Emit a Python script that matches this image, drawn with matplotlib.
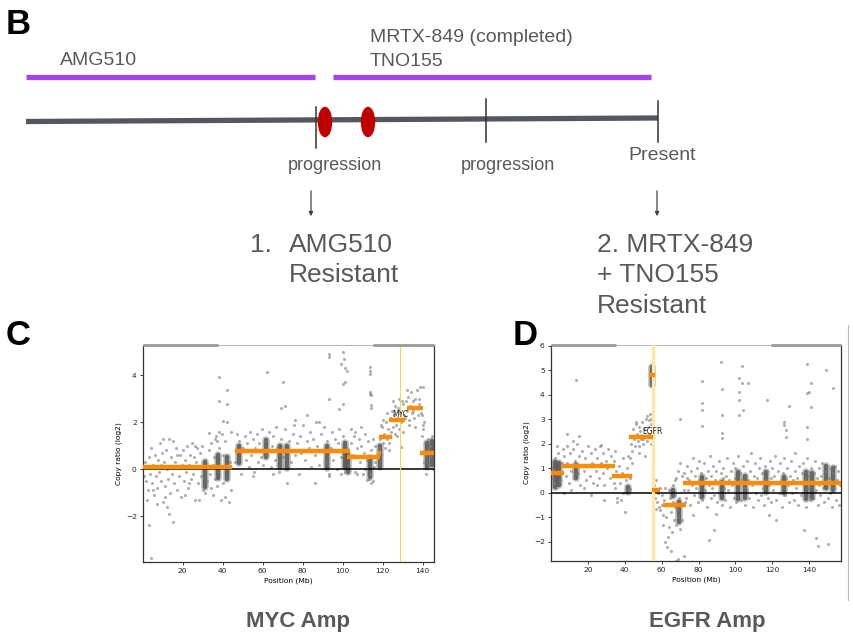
import matplotlib.pyplot as plt
from matplotlib.patches import Ellipse

# ---- panel B: treatment timeline (pixel layout of the schematic) ----
drug_labels = ["AMG510", "MRTX-849 (completed)", "TNO155"]
event_labels = ["progression", "progression", "Present"]
outcome_1 = ["1.", "AMG510", "Resistant"]
outcome_2 = ["2. MRTX-849", "+ TNO155", "Resistant"]

# ---- panel C: chr8 copy ratio, MYC ----
myc_segments_start = [0.2, 46.2, 102.0, 117.6, 118.3, 123.3, 132.3, 138.6]
myc_segments_end = [44.5, 103.7, 118.7, 119.4, 124.8, 131.3, 140.0, 145.8]
myc_segments_val = [0.08, 0.77, 0.51, 0.68, 1.39, 2.10, 2.63, 0.68]
myc_pos = 128.8

myc_left = [(1, 0.3), (1.5, -0.5), (2, 0.1), (2.5, -0.9), (3, 0.5), (3.5, -0.2), (4, 0.9), (4.5, -0.6),
            (5, 0.2), (5.5, -1.1), (6, 0.6), (6.5, -0.3), (7, -0.8), (7.5, 0.4), (8, -0.1), (8.5, 1.1),
            (9, -0.5), (9.5, 0.7), (10, -1.4), (10.5, 0.3), (11, -0.7), (11.5, 0.8), (12, 0.0), (12.5, -0.4),
            (13, 1.3), (13.5, -1.0), (14, 0.5), (14.5, -0.2), (15, 1.2), (15.5, -0.6), (16, 0.3), (16.5, 0.9),
            (17, -0.9), (17.5, 0.1), (18, -0.3), (18.5, 0.6), (19, -1.2), (19.5, 0.2), (20, 0.8), (20.5, -0.5),
            (21, 0.4), (21.5, -0.1), (22, 1.0), (22.5, -0.8), (23, 0.2), (23.5, 0.6), (24, -0.4), (24.5, 1.1),
            (25, -0.2), (25.5, 0.5), (26, -1.3), (26.5, 0.3), (27, 0.9), (27.5, -0.6), (28, 0.1), (28.5, 0.7),
            (29, -0.3), (29.5, 1.0), (30, -0.9), (31, 0.4), (32, -0.5), (33, 0.8), (33.5, -0.2), (34, 1.1),
            (35, -1.1), (35.5, 0.5), (36, -0.4), (36.5, 1.4), (37, -0.7), (38, 0.9), (39, -1.3), (39.5, 1.5),
            (40, -0.6), (41, 1.2), (43, -1.4), (43.5, 0.3), (44, 1.6), (3, -2.4), (13, -1.9), (15, -2.25),
            (4, -3.8), (38, 3.95), (38, 2.9), (42, 3.4), (42, 2.8), (40, 2.05), (38, 1.6), (42, 2.0),
            (37, 1.2), (33, 1.55), (36, 1.3), (7, -1.5), (11, -1.2), (21, -1.1), (28, -1.3), (10, 1.3),
            (0.5, -0.3), (2, -1.3), (5, -0.9), (9, 0.2), (12, -1.6), (17, 0.6), (23, -0.6), (26, 1.0),
            (31, -1.0), (34, -0.8), (40, 0.6), (44, -0.9), (41, -1.2), (35, 0.2)]
myc_mid = [(46, 0.3), (47, 1.5), (48, 1.2), (49, -0.2), (50, 0.9), (51, 1.4), (51.5, 0.4), (52, 1.1),
           (53, 0.1), (53.5, 1.6), (54, 0.6), (55, 1.3), (55.5, -0.1), (56, 0.9), (57, 1.5), (57.5, 0.3),
           (58, 1.1), (59, 0.5), (59.5, 1.7), (60, 0.2), (61, 1.2), (62, 0.6), (63, 1.6), (64, 0.1),
           (64.5, 1.0), (65, 1.4), (66, 0.4), (66.5, 1.8), (67, 0.9), (68, -0.1), (69, 1.3), (70, 0.5),
           (71, 1.7), (72, -0.6), (72.5, 0.8), (73, 1.2), (74, 0.3), (75, 1.5), (75.5, 1.9), (76, 0.6),
           (77, 1.1), (78, -0.2), (78.5, 1.4), (79, 0.7), (80, 1.9), (81, 0.4), (82, 1.2), (83, 0.9),
           (83.5, 1.6), (84, 0.1), (85, 1.3), (86, 0.6), (86.5, 2.0), (87, 1.0), (88, 0.2), (89, 1.5),
           (90, 0.8), (90.5, 1.8), (91, 0.3), (92, 1.2), (93, -0.2), (94, 0.9), (94.5, 1.6), (95, 0.4),
           (96, 1.3), (97, 0.0), (97.5, 1.1), (98, 1.7), (99, 0.5), (100, 1.4), (101, -0.1), (102, 0.9),
           (62, 4.15), (70, 3.7), (69, 2.6), (71, 2.7), (82, 2.3), (93, 3.0), (93, 4.8), (93, 4.9),
           (100, 5.0), (100.5, 4.7), (101, 4.3), (100, 3.65), (102, 4.2), (100, 2.8), (101, 3.7), (99, 4.5),
           (98, 2.55), (88, 2.0), (76, 2.1), (55, -0.3), (65, -0.2), (93, -0.3), (99, -0.2), (86, -0.6)]
myc_right = [(103, 0.2), (104, 1.1), (105, 0.6), (105.5, 1.4), (106, -0.1), (107, 0.9), (108, 1.3),
             (108.5, 0.3), (109, 1.0), (110, -0.2), (110.5, 0.7), (111, 1.5), (112, 0.4), (112.5, 1.2),
             (113, -0.4), (114, 0.8), (115, 1.3), (115.5, 0.1), (116, 1.0), (117, 0.6), (104, 1.7),
             (106, 1.6), (109, 1.8), (111, 0.0), (107, -0.2), (116, 0.3), (113.5, 4.35), (113.5, 4.2),
             (113.5, 4.05), (113.5, 3.3), (113.7, 3.2), (114, 3.15), (114, 2.75), (114, 2.6), (113.8, -0.2),
             (114.2, -0.6), (115, -0.5), (112, -0.45), (118, 0.9), (118.5, 1.3), (119, 0.6), (119.5, 1.8),
             (120, 1.1), (120.5, 1.5), (121, 0.9), (121.5, 2.0), (122, 1.3), (122.5, 1.7), (123, 1.1),
             (123.5, 2.2), (124, 1.6), (120, 2.1), (122, 2.4), (119, 1.9), (123, 0.8), (124.5, 2.5),
             (125, 1.8), (125.5, 2.3), (126, 2.7), (126.5, 1.9), (127, 2.2), (127.5, 2.6), (128, 1.7),
             (128.5, 2.4), (129, 2.0), (129.5, 2.9), (130, 1.6), (130.5, 2.3), (125, 2.9), (127, 1.4),
             (129, 0.95), (128, 3.0), (130, 2.8), (126, 1.5), (131, 2.2), (131.5, 2.9), (132, 2.5),
             (132.5, 3.1), (133, 2.1), (133.5, 2.7), (134, 3.3), (134.5, 2.4), (135, 2.9), (135.5, 2.2),
             (136, 3.0), (136.5, 2.6), (137, 3.4), (137.5, 2.3), (138, 2.8), (138.5, 3.5), (139, 2.4),
             (133, 1.9), (136, 1.8), (132, 3.4), (138, 3.0), (135, 2.5), (139.5, 1.4), (140, 1.9),
             (140, 1.7), (140.5, 0.3), (141, 1.1), (141.5, -0.2), (142, 0.8), (142.5, 1.3), (143, 0.2),
             (143.5, 1.0), (144, 0.5), (144.5, 1.4), (145, 0.0), (140, 3.5), (140.5, 2.0), (139.8, 2.3),
             (141, 0.6)]
# dense probe clusters: position, low, high
myc_dense_x = [31.2, 37.8, 42.3, 48.3, 61.7, 68.5, 72.0, 92.2, 101.2, 102.8, 113.7, 118.7, 142.0, 144.5]
myc_dense_lo = [-0.74, -0.37, -0.43, 0.27, 0.54, 0.10, 0.04, 0.04, 0.11, -0.10, -0.32, 0.10, 0.11, 0.2]
myc_dense_hi = [0.32, 0.61, 0.54, 1.00, 1.25, 1.00, 0.97, 0.97, 1.12, 0.61, 0.47, 1.00, 1.12, 1.2]

# ---- panel D: chr7 copy ratio, EGFR ----
egfr_segments_start = [0.1, 5.9, 33.0, 42.4, 53.4, 54.6, 60.6, 71.4]
egfr_segments_end = [7.1, 34.8, 43.8, 55.2, 56.6, 59.1, 73.0, 157.0]
egfr_segments_val = [0.79, 1.09, 0.69, 2.26, 4.79, 0.10, -0.51, 0.38]
egfr_pos = 55.2

egfr_left = [(1, 1.0), (1.5, 0.4), (2, 1.4), (3, 0.2), (4, 1.6), (5, 0.5), (6, 1.2), (7, 0.0), (1, 0.6),
             (6.5, 1.8), (3.5, 1.9), (7, 1.5), (8, 0.7), (8.5, 1.9), (9, 1.2), (10, 0.4), (10.5, 1.6),
             (11, 0.9), (12, 1.8), (12.5, 0.6), (13, 1.3), (14, 2.0), (14.5, 0.8), (15, 1.5), (16, 0.3),
             (16.5, 1.1), (17, 1.7), (18, 0.9), (18.5, 1.4), (19, 0.5), (20, 1.9), (20.5, 1.1), (21, 0.7),
             (22, 1.6), (22.5, 1.2), (23, 0.4), (24, 1.8), (24.5, 0.9), (25, 1.4), (26, 0.6), (26.5, 1.9),
             (27, 1.2), (28, 0.8), (28.5, 1.6), (29, 0.3), (30, 1.3), (30.5, 1.0), (31, 1.8), (32, 0.6),
             (32.5, 1.5), (33, 1.1), (34, 0.4), (34.5, 1.7), (9, 2.4), (13.8, 4.6), (15, 2.3), (12, 2.1),
             (27, 1.95), (29, -0.3), (22, -0.1), (18, 0.2), (11, 0.1), (25, 0.3), (34, 1.3), (35, 0.2),
             (35.5, 0.9), (36, -0.2), (37, 1.1), (37.5, 0.4), (38, -0.3), (38.5, 0.8), (39, 1.4), (40, -0.8),
             (40.5, 0.5), (41, 1.0), (41.5, 0.1), (42, 1.5), (43, 0.6), (36, -0.4), (39, 0.0), (42, 0.05),
             (42.5, 0.1), (43, 0.15), (43, 1.4), (43.5, 2.0), (44, 1.7), (44.5, 2.6), (45, 2.2), (45.5, 1.9),
             (46, 2.8), (46.5, 2.4), (47, 2.1), (47.5, 2.7), (48, 1.9), (48.5, 2.5), (49, 2.2), (49.5, 2.9),
             (50, 2.0), (50.5, 2.6), (51, 2.3), (51.5, 3.0), (52, 2.1), (52.5, 2.7), (53, 2.4), (53.5, 3.2),
             (54, 2.0), (54.5, 2.8), (55, 2.5), (44, 1.2), (46, 2.9), (48, 1.6), (51, 1.5), (53, 2.95),
             (52, 3.15), (50, 2.2), (54, 3.0), (55.2, 5.8), (55.2, 5.6), (55.2, 5.4), (55, 4.4), (55.4, 5.3)]
egfr_mid = [(56, 0.3), (56.5, -0.2), (57, 0.5), (57.5, -0.4), (58, 0.0), (58.5, -0.6), (59, 0.2), (60, -0.5),
            (60, -0.1), (59, -0.7), (57, -0.65), (61, -0.9), (61.5, -0.3), (62, -2.0), (62.5, -1.0),
            (63, -0.5), (63, -2.2), (64, -1.4), (64.5, -0.2), (65, -0.8), (65.5, -1.6), (66, -0.4),
            (66.5, -1.1), (67, -0.6), (67.5, -0.1), (68, -1.3), (68.5, -0.7), (69, -1.0), (69.5, -0.2),
            (70, -1.5), (70.5, -0.5), (71, -1.1), (72, 0.1), (72.5, -0.4), (62, 0.2), (64, 0.1), (66, 0.3),
            (67, 0.5), (68, 0.6), (70, 1.2), (70, 3.0), (69, -2.7), (68, -2.8), (65, -2.4), (63.5, -1.8),
            (61, -1.3), (71, 0.7), (72, -2.6), (69, 0.9)]
egfr_right = [(72, 0.8), (73, -0.2), (73.5, 0.6), (74, 1.1), (74.5, 0.1), (75, 0.5), (75.5, -0.5), (76, 0.9),
              (76.5, 0.3), (77, 1.4), (77.5, -0.1), (78, 0.7), (78.5, 0.2), (79, 1.0), (79.5, -0.4), (80, 0.5),
              (80.5, 1.3), (81, 0.0), (81.5, 0.8), (82, -0.3), (82.5, 0.4), (83, 1.2), (83.5, 0.1), (84, 0.6),
              (84.5, -0.6), (85, 0.9), (85.5, 0.3), (86, 1.5), (86.5, -0.2), (87, 0.7), (87.5, 0.2), (88, 1.1),
              (88.5, -0.1), (89, 0.5), (89.5, 0.9), (90, -0.4), (90.5, 0.4), (91, 1.3), (91.5, 0.0), (92, 0.8),
              (92.5, -0.5), (93, 0.6), (93.5, 1.0), (94, 0.2), (94.5, -0.3), (95, 0.7), (95.5, 1.4), (96, 0.1),
              (96.5, 0.5), (97, -0.6), (97.5, 0.9), (98, 0.3), (98.5, 1.2), (99, -0.2), (99.5, 0.6), (100, 1.0),
              (100.5, -0.4), (101, 0.4), (101.5, 1.5), (102, 0.0), (102.5, 0.8), (103, -0.3), (103.5, 0.5),
              (104, 1.1), (104.5, 0.2), (105, -0.5), (105.5, 0.7), (106, 1.3), (106.5, 0.1), (107, 0.5),
              (107.5, -0.2), (108, 0.9), (108.5, 1.6), (109, 0.3), (109.5, -0.6), (110, 0.7), (110.5, 1.2),
              (111, 0.0), (111.5, 0.6), (112, -0.3), (112.5, 1.0), (113, 0.4), (113.5, 1.4), (114, -0.1),
              (114.5, 0.8), (115, 0.2), (115.5, -0.5), (116, 1.1), (116.5, 0.5), (117, 0.9), (117.5, -0.2),
              (118, 0.3), (118.5, 1.3), (119, 0.6), (119.5, -0.4), (120, 1.0), (120.5, 0.1), (121, 0.7),
              (121.5, 1.5), (122, -0.3), (122.5, 0.4), (123, 0.9), (123.5, 0.0), (124, 1.2), (124.5, 0.5),
              (125, -0.6), (125.5, 0.8), (126, 0.2), (126.5, 1.4), (127, -0.1), (127.5, 0.6), (128, 1.0),
              (128.5, 0.3), (129, -0.4), (129.5, 0.7), (130, 1.3), (130.5, 0.0), (131, 0.5), (131.5, -0.3),
              (132, 0.9), (132.5, 1.6), (133, 0.2), (133.5, 0.6), (134, -0.5), (134.5, 1.1), (135, 0.4),
              (135.5, -0.1), (136, 0.8), (136.5, 1.2), (137, 0.0), (137.5, 0.5), (138, -0.6), (138.5, 0.9),
              (139, 1.4), (139.5, 0.2), (140, 0.7), (140.5, -0.3), (141, 1.0), (141.5, 0.4), (142, -0.2),
              (142.5, 0.8), (143, 1.3), (143.5, 0.1), (144, 0.6), (144.5, -0.5), (145, 1.0), (145.5, 0.3),
              (146, -0.1), (146.5, 0.7), (147, 1.2), (147.5, 0.2), (148, -0.4), (148.5, 0.9), (149, 0.5),
              (149.5, 1.1), (150, -0.2), (150.5, 0.6), (151, 0.0), (151.5, 1.0), (152, 0.4), (152.5, -0.6),
              (153, 0.8), (153.5, 0.2), (154, 1.1), (154.5, -0.3), (155, 0.5), (155.5, 0.9), (156, -0.5),
              (156.5, 0.3), (92, 5.35), (103.4, 5.17), (102.1, 4.67), (103.4, 4.46), (107, 4.49), (82, 4.57),
              (92.5, 4.22), (102.1, 4.12), (82, 3.67), (82, 3.37), (102.1, 3.8), (102.1, 3.16), (103.9, 3.37),
              (117, 3.78), (129.2, 3.54), (92.5, 3.16), (82, 2.74), (92.5, 2.43), (92.5, 2.24), (126.4, 2.9),
              (126.4, 2.76), (127.5, 2.56), (127.5, 2.29), (138.6, 5.25), (140.7, 4.46), (138.6, 4.05),
              (139.7, 4.12), (140.7, 3.5), (148.9, 5.0), (153, 4.26), (138.6, 2.67), (138.6, 2.19),
              (85.8, -1.93), (88.5, -1.52), (137.3, -1.52), (143.7, -1.86), (144.6, -2.18), (150, -2.09),
              (77.2, -0.91), (89.5, -0.87), (118.3, -0.91), (121.9, -1.11)]
egfr_dense_x = [2.0, 4.5, 13.8, 41.8, 54.9, 66.2, 69.4, 81.7, 92.5, 101.5, 105.0, 116.5, 126.2, 138.0, 141.5, 148.9, 153.0]
egfr_dense_lo = [0.25, 0.3, 0.6, 0.04, 4.40, -0.15, -1.2, -0.16, -0.2, -0.25, -0.2, 0.03, 0.0, -0.25, -0.2, 0.2, 0.1]
egfr_dense_hi = [1.27, 1.2, 1.12, 0.25, 5.14, 0.10, -0.4, 0.65, 0.45, 0.85, 0.7, 0.85, 0.65, 0.85, 0.8, 1.1, 1.0]

GRAY_TXT = "#595959"
ORANGE = "#ff8c00"

fig = plt.figure(figsize=(8.54, 6.38), dpi=100, facecolor="white")

# overlay in pixel coordinates for the schematic and panel letters
ov = fig.add_axes([0, 0, 1, 1])
ov.set_xlim(0, 854)
ov.set_ylim(638, 0)
ov.axis("off")
ov.patch.set_alpha(0)

for letter, x, y in [("B", 6, 34), ("C", 6, 345), ("D", 513, 345)]:
    ov.text(x, y, letter, fontsize=25, fontweight="bold", color="black",
            family="Liberation Sans", va="baseline")

tf = dict(family="Liberation Sans", color=GRAY_TXT, va="baseline")
ov.text(60, 65, drug_labels[0], fontsize=14, **tf)
ov.text(370, 42, drug_labels[1], fontsize=14, **tf)
ov.text(370, 66, drug_labels[2], fontsize=14, **tf)
ov.plot([26, 315], [76.5, 76.5], color="#a244e8", lw=3.8, solid_capstyle="butt")
ov.plot([333, 651], [76.5, 76.5], color="#a244e8", lw=3.8, solid_capstyle="butt")

ov.plot([26, 658], [121.5, 118], color="#54585c", lw=3.8, solid_capstyle="butt")
for tx, y0, y1 in [(316, 107, 148), (486, 99, 142), (658, 101, 142)]:
    ov.plot([tx, tx], [y0, y1], color="#333333", lw=1.1)
for ex in [325, 368]:
    ov.add_patch(Ellipse((ex, 122), 13, 29, color="#c00000", zorder=5))

ov.text(335, 170, event_labels[0], fontsize=13, ha="center", **tf)
ov.text(508, 170, event_labels[1], fontsize=13, ha="center", **tf)
ov.text(662, 160, event_labels[2], fontsize=14, ha="center", **tf)
for ax_x in [311, 657]:
    ov.annotate("", xy=(ax_x, 219), xytext=(ax_x, 188),
                arrowprops=dict(arrowstyle="-|>", lw=0.9, color="#444444", mutation_scale=6))

ov.text(250, 252, outcome_1[0], fontsize=19, **tf)
ov.text(289, 252, outcome_1[1], fontsize=19, **tf)
ov.text(289, 282, outcome_1[2], fontsize=19, **tf)
for txt, by in zip(outcome_2, [252, 282, 313]):
    ov.text(597, by, txt, fontsize=19, **tf)

ov.text(298, 627, "MYC Amp", fontsize=16, fontweight="bold", ha="center", **tf)
ov.text(707, 627, "EGFR Amp", fontsize=16, fontweight="bold", ha="center", **tf)
ov.plot([848, 848], [325, 600], color="#bbbbbb", lw=0.8)


def cnv_panel(ax, pts, dense_x, dense_lo, dense_hi, seg_s, seg_e, seg_v, gene_x, gene, gene_y,
              xlim, ylim, yticks, gene_lw, gene_color, top_bars):
    ax.set_facecolor("white")
    xs = [p[0] for p in pts]
    ys = [p[1] for p in pts]
    # soft halo then darker core for the dense probe stacks
    ax.vlines(dense_x, dense_lo, dense_hi, color="#7a7a7a", lw=5.5, alpha=0.45,
              capstyle="round", zorder=2)
    ax.vlines(dense_x, dense_lo, dense_hi, color="#505050", lw=3.2, alpha=0.8,
              capstyle="round", zorder=2)
    ax.scatter(xs, ys, s=5, color="#7c7c7c", alpha=0.6, linewidths=0, zorder=2)
    ax.axhline(0, color="black", lw=1.1, zorder=3)
    ax.axvline(gene_x, color=gene_color, lw=gene_lw, zorder=3)
    ax.hlines(seg_v, seg_s, seg_e, color=ORANGE, lw=3.2, zorder=4)
    ax.text(gene_x, gene_y, gene, fontsize=5.5, ha="center", va="center", color="#222222", zorder=5)
    ax.set_xlim(*xlim)
    ax.set_ylim(*ylim)
    ax.set_xticks([20, 40, 60, 80, 100, 120, 140])
    ax.set_yticks(yticks)
    ax.tick_params(labelsize=5.4, length=2.5, width=0.6, pad=2, colors="#222222")
    ax.set_xlabel("Position (Mb)", fontsize=5.4, labelpad=2)
    ax.set_ylabel("Copy ratio (log2)", fontsize=5.4, labelpad=3)
    for side in ["left", "bottom", "right"]:
        ax.spines[side].set_color("#333333")
        ax.spines[side].set_linewidth(0.9)
    ax.spines["top"].set_color("#aaaaaa")
    ax.spines["top"].set_linewidth(0.6)
    for a, b in top_bars:
        ax.plot([a, b], [1, 1], transform=ax.transAxes, clip_on=False, color="#999999", lw=2.0,
                solid_capstyle="butt", zorder=6)


axc = fig.add_axes([143 / 854, 1 - 562 / 638, 291 / 854, 217 / 638])
cnv_panel(axc, myc_left + myc_mid + myc_right, myc_dense_x, myc_dense_lo, myc_dense_hi,
          myc_segments_start, myc_segments_end, myc_segments_val, myc_pos, "MYC", 2.35,
          (0.2, 145.7), (-3.96, 5.3), [-2, 0, 2, 4], 0.8, "#f5d742", [(0, 0.258), (0.79, 1)])

axd = fig.add_axes([551 / 854, 1 - 561 / 638, 289.7 / 854, 216 / 638])
cnv_panel(axd, egfr_left + egfr_mid + egfr_right, egfr_dense_x, egfr_dense_lo, egfr_dense_hi,
          egfr_segments_start, egfr_segments_end, egfr_segments_val, egfr_pos, "EGFR", 2.5,
          (0.1, 157), (-2.79, 6.03), [-2, -1, 0, 1, 2, 3, 4, 5, 6], 2.4, "#fce9a8",
          [(0, 0.225), (0.76, 1)])

fig.savefig("out.png", dpi=100, facecolor="white")
